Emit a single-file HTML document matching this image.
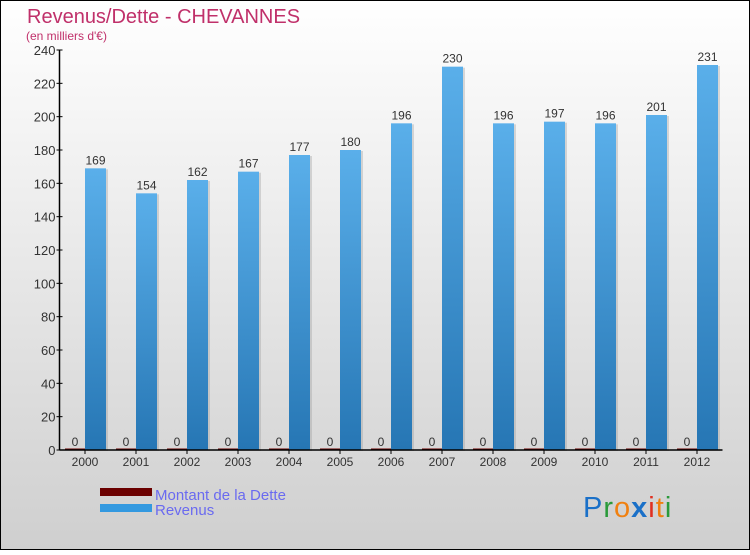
<!DOCTYPE html>
<html><head><meta charset="utf-8"><style>
body{margin:0}
#c{width:750px;height:550px;position:relative;font-family:"Liberation Sans",sans-serif}
</style></head><body>
<div id="c">
<svg id="s" width="750" height="550" xmlns="http://www.w3.org/2000/svg">
<defs>
<linearGradient id="bg" x1="0" y1="0" x2="0" y2="1"><stop offset="0" stop-color="#ffffff"/><stop offset="1" stop-color="#cfcfcf"/></linearGradient>
<linearGradient id="bl" x1="0" y1="0" x2="0" y2="1"><stop offset="0" stop-color="#5aafea"/><stop offset="1" stop-color="#2676b4"/></linearGradient>
</defs>
<rect x="0.5" y="0.5" width="749" height="549" fill="url(#bg)" stroke="#000"/>
<text x="27" y="23" font-size="20" fill="#c0306a">Revenus/Dette - CHEVANNES</text>
<text x="26" y="40" font-size="12" fill="#c0306a">(en milliers d'€)</text>
<g id="plot"></g>
<rect x="100" y="488" width="52" height="8" fill="#6b0000"/>
<text x="155" y="500" font-size="15" fill="#6a6af0">Montant de la Dette</text>
<rect x="100" y="504" width="52" height="8" fill="#3399e0"/>
<text x="155" y="515" font-size="15" fill="#6a6af0">Revenus</text>
<g font-size="29" font-family="Liberation Sans,sans-serif">
<text x="583" y="517" letter-spacing="1"><tspan fill="#1a70c8">P</tspan><tspan fill="#2a9a3a">r</tspan><tspan fill="#f08010">o</tspan><tspan fill="#1a70c8" font-weight="bold">x</tspan><tspan fill="#e03020">i</tspan><tspan fill="#f08010">t</tspan><tspan fill="#2a9a3a">i</tspan></text>
</g>
</svg>
</div>
<script>
const years=["2000","2001","2002","2003","2004","2005","2006","2007","2008","2009","2010","2011","2012"];
const revenus=[169,154,162,167,177,180,196,230,196,197,196,201,231];
const dette=[0,0,0,0,0,0,0,0,0,0,0,0,0];
const yTicks=[0,20,40,60,80,100,120,140,160,180,200,220,240];
const NS="http://www.w3.org/2000/svg";
const g=document.getElementById('plot');
const x0=59.5,y0=450,yTop=50,yMax=240,slot=51;
const y=v=>y0-(v/yMax)*(y0-yTop);
const xc=i=>x0+slot*(i+0.5);
function mk(t,a,txt){const e=document.createElementNS(NS,t);for(const k in a)e.setAttribute(k,a[k]);if(txt!==undefined)e.textContent=txt;g.appendChild(e);return e;}
years.forEach((yr,i)=>{
 const c=xc(i);
 const r=mk('rect',{x:c+2,y:y(revenus[i])+1,width:21,height:y0-y(revenus[i]),fill:'#999',opacity:0.35});
 
 const b=mk('rect',{x:c,y:y(revenus[i]),width:21,height:y0-y(revenus[i]),fill:'url(#bl)'});
 
 const d=mk('rect',{x:c-20,y:y(dette[i])-1.5,width:20,height:y0-y(dette[i])+1.5,fill:'#6b0000'});
 
 const lt=mk('text',{x:c+10.5,y:y(revenus[i])-4,'font-size':12,fill:'#333','text-anchor':'middle'},revenus[i]);
 
 const ld=mk('text',{x:c-10,y:y(dette[i])-4,'font-size':12,fill:'#333','text-anchor':'middle'},dette[i]);
 
 const tk=mk('line',{x1:c,x2:c,y1:y0,y2:y0+4,stroke:'#000'});
 
 const xl=mk('text',{x:c,y:y0+16,'font-size':12,fill:'#333','text-anchor':'middle'},yr);
 
});
yTicks.forEach(v=>{
 const t=mk('line',{x1:x0-3,x2:x0+3,y1:y(v),y2:y(v),stroke:'#000'});
 
 const l=mk('text',{x:x0-4,y:y(v)+5,'font-size':13,fill:'#333','text-anchor':'end'},v);
 
});
const ya=mk('line',{x1:x0,x2:x0,y1:yTop,y2:y0,stroke:'#000','stroke-width':1.5});

const xa=mk('line',{x1:x0,x2:x0+slot*13,y1:y0,y2:y0,stroke:'#000','stroke-width':1.5});

</script>
</body></html>
